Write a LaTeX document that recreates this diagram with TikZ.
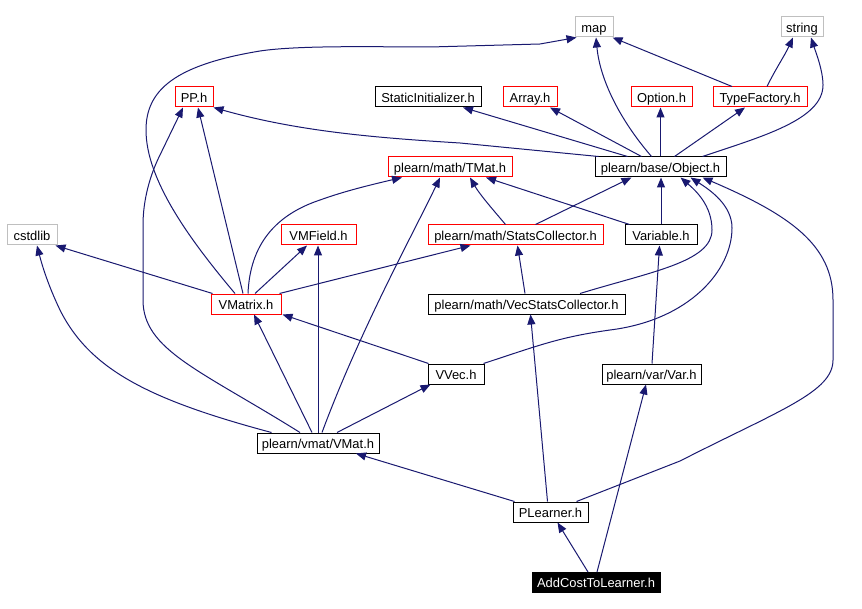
\documentclass[tikz,border=0pt]{standalone}
\usepackage{fontspec}
\setmainfont{Liberation Sans}
\usetikzlibrary{arrows.meta,calc}
\definecolor{edgec}{RGB}{25,25,112}
\definecolor{graybd}{RGB}{191,191,191}
\begin{document}
\begin{tikzpicture}[x=0.75pt,y=-0.75pt,
  nbox/.style={draw, rectangle, inner sep=0pt, minimum height=15pt, line width=0.75pt,
               text height=9.2pt, text depth=1pt,
               font=\fontsize{9.7}{11}\selectfont, text=black},
  bw/.style={minimum width=#1*0.75pt},
  redbox/.style={nbox, draw=red},
  blackbox/.style={nbox, draw=black},
  graybox/.style={nbox, draw=graybd},
  dep/.style={draw=edgec, line width=0.75pt, -{Triangle[length=7.5pt,width=6pt]}}]
\useasboundingbox[fill=white] (0,0) rectangle (862,609);

% nodes
\node[graybox,bw=38] (map) at (594,27) {map};
\node[graybox,bw=42] (string) at (802,27) {string};
\node[redbox,bw=38] (PP) at (194,97) {PP.h};
\node[blackbox,bw=106] (SI) at (428,97) {StaticInitializer.h};
\node[redbox,bw=54] (Array) at (530,97) {Array.h};
\node[redbox,bw=61] (Option) at (661.5,97) {Option.h};
\node[redbox,bw=94] (TF) at (760,97) {TypeFactory.h};
\node[blackbox,bw=131] (Object) at (660.5,167) {plearn/base/Object.h};
\node[redbox,bw=124] (TMat) at (450,167) {plearn/math/TMat.h};
\node[graybox,bw=50] (cstdlib) at (32,235) {cstdlib};
\node[redbox,bw=75] (VMField) at (318.5,235) {VMField.h};
\node[redbox,bw=175] (SC) at (515.5,235) {plearn/math/StatsCollector.h};
\node[blackbox,bw=72] (Variable) at (661,235) {Variable.h};
\node[redbox,bw=70] (VMatrix) at (246,304) {VMatrix.h};
\node[blackbox,bw=197] (VSC) at (526.5,304) {plearn/math/VecStatsCollector.h};
\node[blackbox,bw=56] (VVec) at (456,374) {VVec.h};
\node[blackbox,bw=99] (Var) at (651.5,374) {plearn/var/Var.h};
\node[blackbox,bw=122] (VMat) at (318,443) {plearn/vmat/VMat.h};
\node[blackbox,bw=75] (PL) at (550.5,512) {PLearner.h};
\node[nbox,draw=black,fill=black,text=white,bw=128] (ACL) at (596,582.5) {AddCostToLearner.h};

% AddCostToLearner
\draw[dep] ($(ACL.north)+(-8,0)$) -- ($(PL.south)+(7,0)$);
\draw[dep] ($(ACL.north)+(1,0)$) -- ($(Var.south)+(-5.5,0)$);
% PLearner
\draw[dep] ($(PL.north west)+(2,0)$) -- ($(VMat.south)+(38,0)$);
\draw[dep] ($(PL.north)+(-3,0)$) -- ($(VSC.south)+(4,0)$);
\draw[dep] ($(PL.north)+(26,0)$) -- (680,461) .. controls (780,410) and (833,392) .. (833,360)
   -- (833,300) .. controls (833,245) and (790,215) .. ($(Object.south)+(42,0)$);
% Var
\draw[dep] ($(Var.north)+(0.5,0)$) -- ($(Variable.south)+(-1.5,0)$);
% Variable
\draw[dep] (Variable.north) -- (Variable.north |- Object.south);
\draw[dep] ($(Variable.north west)+(5,0)$) -- ($(TMat.south)+(36,0)$);
% VecStatsCollector
\draw[dep] ($(VSC.north)+(-1.5,0)$) -- ($(SC.south)+(2,0)$);
\draw[dep] ($(VSC.north)+(53.5,0)$) .. controls (650,272) and (712,262) .. (712,230)
   .. controls (712,205) and (695,190) .. ($(Object.south)+(20,0)$);
% VVec
\draw[dep] ($(VVec.north east)+(-1,0)$) .. controls (540,345) and (560,337) .. (610,330)
   .. controls (690,320) and (732,270) .. (732,228)
   .. controls (732,205) and (710,190) .. ($(Object.south)+(30,0)$);
\draw[dep] ($(VVec.north west)+(1,0)$) -- ($(VMatrix.south east)+(1,0)$);
% VMat
\draw[dep] ($(VMat.north)+(19,0)$) -- ($(VVec.south west)+(3,0)$);
\draw[dep] ($(VMat.north)+(-6,0)$) -- ($(VMatrix.south)+(8,0)$);
\draw[dep] (VMat.north) -- (VMat.north |- VMField.south);
\draw[dep] ($(VMat.north)+(4,0)$) .. controls (360,330) and (415,230) .. ($(TMat.south)+(-10,0)$);
\draw[dep] ($(VMat.north west)+(15,0)$) .. controls (150,400) and (90,370) .. (60,310)
   .. controls (48,285) and (42,265) .. ($(cstdlib.south)+(5,0)$);
\draw[dep] ($(VMat.north)+(-18,0)$) .. controls (200,370) and (143,350) .. (143,300)
   -- (143,225) .. controls (143,200) and (150,175) .. (160,155) -- ($(PP.south)+(-11,0)$);
% VMatrix
\draw[dep] ($(VMatrix.north)+(-3,0)$) -- ($(PP.south)+(4,0)$);
\draw[dep] ($(VMatrix.north)+(-11,0)$) .. controls (190,240) and (146,180) .. (146,130)
   .. controls (146,90) and (175,65) .. (260,51) .. controls (300,45) and (380,47) .. (430,47)
   -- (540,44) -- ($(map.south west)+(2,0)$);
\draw[dep] ($(VMatrix.north west)+(2,0)$) -- ($(cstdlib.south east)+(-2,0)$);
\draw[dep] ($(VMatrix.north)+(9,0)$) -- ($(VMField.south)+(-11.5,0)$);
\draw[dep] ($(VMatrix.north east)+(-2,0)$) -- ($(SC.south)+(-45,0)$);
\draw[dep] ($(VMatrix.north)+(2,0)$) .. controls (250,245) and (275,215) .. (320,200)
   .. controls (345,191) and (370,185) .. ($(TMat.south)+(-48,0)$);
% StatsCollector
\draw[dep] ($(SC.north)+(-10,0)$) .. controls (495,212) and (480,195) .. ($(TMat.south)+(20,0)$);
\draw[dep] ($(SC.north)+(20,0)$) -- ($(Object.south)+(-29,0)$);
% Object
\draw[dep] ($(Object.north west)+(4,0)$) -- (460,143) .. controls (380,138) and (300,132) .. (PP.south east);
\draw[dep] ($(Object.north)+(-33,0)$) -- ($(SI.south)+(35,0)$);
\draw[dep] ($(Object.north)+(-19,0)$) -- ($(Array.south)+(20,0)$);
\draw[dep] ($(Object.north)+(-9,0)$) .. controls (620,120) and (600,80) .. ($(map.south)+(2,0)$);
\draw[dep] (Object.north) -- (Object.north |- Option.south);
\draw[dep] ($(Object.north)+(14,0)$) -- ($(TF.south)+(-15,0)$);
\draw[dep] ($(Object.north)+(42,0)$) .. controls (760,137) and (823,120) .. (823,85)
   .. controls (823,70) and (815,50) .. ($(string.south)+(9,0)$);
% TypeFactory
\draw[dep] ($(TF.north)+(-28,0)$) -- ($(map.south east)+(-1,0)$);
\draw[dep] ($(TF.north)+(7,0)$) .. controls (775,70) and (785,55) .. ($(string.south)+(-9,0)$);
\end{tikzpicture}
\end{document}
